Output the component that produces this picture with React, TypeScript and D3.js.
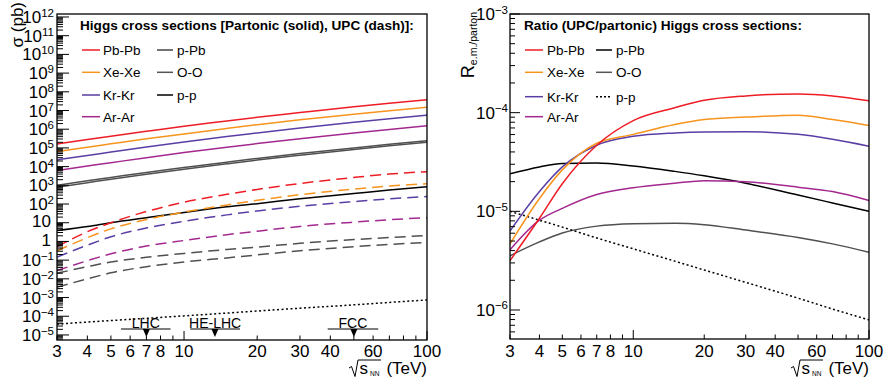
import React from 'react';
import * as d3 from 'd3';

// ---------- data ----------
const energies = [3, 4, 5, 7, 10, 15, 20, 30, 50, 70, 100]; // sqrt(s_NN) in TeV

// log10(sigma / pb), partonic (solid)
const pbpbPartonic = [5.21, 5.45, 5.63, 5.89, 6.16, 6.44, 6.64, 6.89, 7.2, 7.39, 7.57];
const xexePartonic = [4.8, 5.04, 5.22, 5.49, 5.75, 6.04, 6.24, 6.5, 6.8, 6.99, 7.18];
const krkrPartonic = [4.36, 4.6, 4.78, 5.05, 5.32, 5.61, 5.8, 6.06, 6.37, 6.56, 6.75];
const ararPartonic = [3.79, 4.03, 4.21, 4.48, 4.75, 5.04, 5.23, 5.49, 5.8, 5.99, 6.18];
const ppbPartonic = [2.9, 3.14, 3.33, 3.59, 3.86, 4.15, 4.35, 4.61, 4.92, 5.11, 5.3];
const ooPartonic = [3.0, 3.24, 3.42, 3.69, 3.95, 4.24, 4.44, 4.7, 5.0, 5.19, 5.38];
const ppPartonic = [0.58, 0.8, 1.0, 1.27, 1.55, 1.85, 2.02, 2.28, 2.56, 2.75, 2.93];

// log10(sigma / pb), UPC (dashed / dotted)
const pbpbUPC = [-0.28, 0.52, 1.0, 1.6, 2.1, 2.52, 2.78, 3.1, 3.42, 3.6, 3.73];
const xexeUPC = [-0.5, 0.2, 0.67, 1.17, 1.57, 1.95, 2.2, 2.5, 2.8, 2.96, 3.08];
const krkrUPC = [-0.84, -0.2, 0.25, 0.72, 1.08, 1.42, 1.63, 1.88, 2.13, 2.28, 2.4];
const ararUPC = [-1.56, -1.03, -0.66, -0.25, 0.05, 0.36, 0.55, 0.8, 1.03, 1.16, 1.27];
const ppbUPC = [-1.7, -1.35, -1.1, -0.85, -0.64, -0.43, -0.3, -0.1, 0.1, 0.21, 0.31];
const ooUPC = [-2.45, -2.0, -1.68, -1.35, -1.1, -0.88, -0.72, -0.5, -0.28, -0.16, -0.06];
const ppUPC = [-4.42, -4.31, -4.23, -4.11, -3.98, -3.83, -3.72, -3.57, -3.39, -3.26, -3.13];

// log10(R e.m./parton)
const pbpbRatio = [-5.5, -5.07, -4.72, -4.33, -4.08, -3.95, -3.875, -3.83, -3.81, -3.83, -3.88];
const xexeRatio = [-5.33, -4.87, -4.58, -4.31, -4.22, -4.12, -4.07, -4.045, -4.025, -4.07, -4.13];
const krkrRatio = [-5.2, -4.8, -4.55, -4.33, -4.24, -4.205, -4.195, -4.193, -4.22, -4.27, -4.34];
const ararRatio = [-5.39, -5.09, -4.97, -4.83, -4.76, -4.715, -4.69, -4.7, -4.755, -4.8, -4.89];
const ppbRatio = [-4.62, -4.55, -4.515, -4.51, -4.54, -4.595, -4.64, -4.715, -4.835, -4.915, -5.0];
const ooRatio = [-5.45, -5.31, -5.22, -5.15, -5.125, -5.12, -5.135, -5.19, -5.265, -5.33, -5.415];
const ppRatio = [-5.0, -5.09, -5.16, -5.27, -5.38, -5.505, -5.595, -5.72, -5.88, -5.99, -6.1];

// collider markers (TeV)
const colliderNames = ['LHC', 'HE-LHC', 'FCC'];
const colliderLow = [5.5, 10.6, 39];
const colliderHigh = [8.8, 17, 63];
const colliderMark = [7, 13.4, 50];

// axis ticks
const xTicks = [3, 4, 5, 6, 7, 8, 9, 10, 20, 30, 40, 50, 60, 70, 80, 90, 100];
const xTickLabels = [3, 4, 5, 6, 7, 8, 10, 20, 30, 40, 60, 100];
const leftExponents = d3.range(-5, 13);
const rightExponents = [-3, -4, -5, -6];

// legends
const leftLegendTitle = 'Higgs cross sections [Partonic (solid), UPC (dash)]:';
const rightLegendTitle = 'Ratio (UPC/partonic) Higgs cross sections:';
const legendCol1 = ['Pb-Pb', 'Xe-Xe', 'Kr-Kr', 'Ar-Ar'];
const legendCol2 = ['p-Pb', 'O-O', 'p-p'];

// ---------- style ----------
const FONT = "'Liberation Sans', Arial, Helvetica, sans-serif";
const cRed = '#ee1d25';
const cOrange = '#f7941e';
const cBlue = '#5a3ea5';
const cMag = '#a3288f';
const cGray = '#505050';
const cBlack = '#000000';
const DASH = '11 6';
const DOT = '2 2.5';

const L = { x0: 57, x1: 427, y0: 14, y1: 340 };
const R = { x0: 510, x1: 869, y0: 14, y1: 339 };

const xL = d3.scaleLog().domain([3, 100]).range([L.x0, L.x1]);
const yL = d3.scaleLog().domain([Math.pow(10, -5.27), Math.pow(10, 12.16)]).range([L.y1, L.y0]);
const xR = d3.scaleLog().domain([3, 100]).range([R.x0, R.x1]);
const yR = d3.scaleLog().domain([Math.pow(10, -6.294), 1e-3]).range([R.y1, R.y0]);

type Series = { vals: number[]; color: string; dash?: string };

const leftSeries: Series[] = [
  { vals: pbpbPartonic, color: cRed },
  { vals: xexePartonic, color: cOrange },
  { vals: krkrPartonic, color: cBlue },
  { vals: ararPartonic, color: cMag },
  { vals: ppbPartonic, color: cGray },
  { vals: ooPartonic, color: cGray },
  { vals: ppPartonic, color: cBlack },
  { vals: pbpbUPC, color: cRed, dash: DASH },
  { vals: xexeUPC, color: cOrange, dash: DASH },
  { vals: krkrUPC, color: cBlue, dash: DASH },
  { vals: ararUPC, color: cMag, dash: DASH },
  { vals: ppbUPC, color: cGray, dash: DASH },
  { vals: ooUPC, color: cGray, dash: DASH },
  { vals: ppUPC, color: cBlack, dash: DOT },
];

const rightSeries: Series[] = [
  { vals: ooRatio, color: cGray },
  { vals: ppRatio, color: cBlack, dash: DOT },
  { vals: ppbRatio, color: cBlack },
  { vals: ararRatio, color: cMag },
  { vals: krkrRatio, color: cBlue },
  { vals: xexeRatio, color: cOrange },
  { vals: pbpbRatio, color: cRed },
];

function pathFor(vals: number[], xs: any, ys: any) {
  const gen = d3
    .line<number>()
    .x((_, i) => xs(energies[i]))
    .y((d) => ys(Math.pow(10, d)))
    .curve(d3.curveMonotoneX);
  return gen(vals) || '';
}

function supText(e: number) {
  return e < 0 ? '\u2212' + String(-e) : String(e);
}

function YTicks({ ys, x, minE, maxE, majorLen, minorLen }: any) {
  const [dLo, dHi] = ys.domain();
  const out: any[] = [];
  for (let e = minE; e <= maxE; e++) {
    for (let m = 1; m <= 9; m++) {
      const v = m * Math.pow(10, e);
      if (v < dLo || v > dHi) continue;
      const yy = ys(v);
      out.push(
        <line key={e + '_' + m} x1={x} x2={x + (m === 1 ? majorLen : minorLen)} y1={yy} y2={yy} stroke="#000" strokeWidth={1} />
      );
    }
  }
  return <g>{out}</g>;
}

function XTicks({ xs, y }: any) {
  return (
    <g>
      {xTicks.map((t) => {
        const major = t === 10 || t === 100;
        return <line key={t} x1={xs(t)} x2={xs(t)} y1={y} y2={y - (major ? 9 : 4.5)} stroke="#000" strokeWidth={1} />;
      })}
      {xTickLabels.map((t) => (
        <text key={'l' + t} x={xs(t)} y={357} textAnchor="middle" fontSize={17}>
          {t}
        </text>
      ))}
    </g>
  );
}

function XTitle({ right }: { right: number }) {
  const r = right;
  return (
    <g>
      <path
        d={`M${r - 78},368 L${r - 75.5},366.5 L${r - 72},376.5 L${r - 69},360 L${r - 46},360`}
        fill="none"
        stroke="#000"
        strokeWidth={1}
      />
      <text x={r - 67.5} y={374} fontSize={17}>
        s
      </text>
      <text x={r - 57} y={376} fontSize={6.5}>
        NN
      </text>
      <text x={r} y={374} textAnchor="end" fontSize={17}>
        (TeV)
      </text>
    </g>
  );
}

function Legend({ x1, x2, rows, titleX, title, col1Styles, col2Styles }: any) {
  return (
    <g>
      <text x={titleX} y={30} fontSize={13.6} fontWeight="bold">
        {title}
      </text>
      {legendCol1.map((lab, i) => (
        <g key={lab}>
          <line x1={x1[0]} x2={x1[1]} y1={rows[i]} y2={rows[i]} stroke={col1Styles[i].color} strokeWidth={1.5} />
          <text x={x1[2]} y={rows[i] + 5} fontSize={13.5}>
            {lab}
          </text>
        </g>
      ))}
      {legendCol2.map((lab, i) => (
        <g key={lab}>
          <line
            x1={x2[0]}
            x2={x2[1]}
            y1={rows[i]}
            y2={rows[i]}
            stroke={col2Styles[i].color}
            strokeWidth={1.5}
            strokeDasharray={col2Styles[i].dash || undefined}
          />
          <text x={x2[2]} y={rows[i] + 5} fontSize={13.5}>
            {lab}
          </text>
        </g>
      ))}
    </g>
  );
}

export default function App() {
  const rows = [50, 72.3, 95, 116.7];
  const col1Styles = [{ color: cRed }, { color: cOrange }, { color: cBlue }, { color: cMag }];
  return (
    <svg
      width={886}
      height={378}
      viewBox="0 0 886 378"
      style={{ position: 'absolute', left: 0, top: 0, background: '#fff' }}
      fontFamily={FONT}
    >
      <defs>
        <clipPath id="clipL">
          <rect x={L.x0} y={L.y0} width={L.x1 - L.x0} height={L.y1 - L.y0} />
        </clipPath>
        <clipPath id="clipR">
          <rect x={R.x0} y={R.y0} width={R.x1 - R.x0} height={R.y1 - R.y0} />
        </clipPath>
      </defs>
      <rect x={0} y={0} width={886} height={378} fill="#fff" />

      {/* ---------- left panel ---------- */}
      <g clipPath="url(#clipL)">
        {leftSeries.map((s, i) => (
          <path
            key={i}
            d={pathFor(s.vals, xL, yL)}
            fill="none"
            stroke={s.color}
            strokeWidth={1.5}
            strokeDasharray={s.dash || undefined}
          />
        ))}
      </g>
      <YTicks ys={yL} x={L.x0} minE={-6} maxE={12} majorLen={12} minorLen={6} />
      <XTicks xs={xL} y={L.y1} />
      {leftExponents.map((e) => {
        const yy = yL(Math.pow(10, e)) + 6;
        if (e === 0 || e === 1)
          return (
            <text key={e} x={51} y={yy - 1.5} textAnchor="end" fontSize={17}>
              {e === 0 ? '1' : '10'}
            </text>
          );
        return (
          <text key={e} x={54} y={yy} textAnchor="end" fontSize={17}>
            10
            <tspan dy={-6} fontSize={11.5}>
              {supText(e)}
            </tspan>
          </text>
        );
      })}
      <rect x={L.x0} y={L.y0} width={L.x1 - L.x0} height={L.y1 - L.y0} fill="none" stroke="#000" strokeWidth={1.3} />
      <text transform="translate(23,2) rotate(-90)" textAnchor="end" fontSize={17}>
        σ (pb)
      </text>
      <XTitle right={L.x1} />

      {/* collider markers */}
      {colliderNames.map((n, i) => {
        const xm = xL(colliderMark[i]);
        return (
          <g key={n}>
            <line x1={xL(colliderLow[i])} x2={xL(colliderHigh[i])} y1={329} y2={329} stroke="#000" strokeWidth={1.2} />
            <path d={`M${xm - 3.5},329 L${xm + 3.5},329 L${xm},337 Z`} fill="#000" />
            <text x={(xL(colliderLow[i]) + xL(colliderHigh[i])) / 2} y={328} textAnchor="middle" fontSize={14}>
              {n}
            </text>
          </g>
        );
      })}

      <Legend
        x1={[82, 100, 103]}
        x2={[157, 173, 177]}
        rows={rows}
        titleX={80}
        title={leftLegendTitle}
        col1Styles={col1Styles}
        col2Styles={[{ color: '#444' }, { color: '#555' }, { color: '#000' }]}
      />

      {/* ---------- right panel ---------- */}
      <g clipPath="url(#clipR)">
        {rightSeries.map((s, i) => (
          <path
            key={i}
            d={pathFor(s.vals, xR, yR)}
            fill="none"
            stroke={s.color}
            strokeWidth={1.5}
            strokeDasharray={s.dash || undefined}
          />
        ))}
      </g>
      <YTicks ys={yR} x={R.x0} minE={-7} maxE={-3} majorLen={10} minorLen={5} />
      <XTicks xs={xR} y={R.y1} />
      {rightExponents.map((e) => (
        <text key={e} x={508} y={yR(Math.pow(10, e)) + 6} textAnchor="end" fontSize={17}>
          10
          <tspan dy={-6.5} fontSize={11.5}>
            {supText(e)}
          </tspan>
        </text>
      ))}
      <rect x={R.x0} y={R.y0} width={R.x1 - R.x0} height={R.y1 - R.y0} fill="none" stroke="#000" strokeWidth={1.3} />
      <text transform="translate(474,12) rotate(-90)" textAnchor="end" fontSize={18}>
        R
        <tspan fontSize={10.5} dy={3}>
          e.m./parton
        </tspan>
      </text>
      <XTitle right={R.x1} />

      <Legend
        x1={[525, 543, 547]}
        x2={[596, 612, 616]}
        rows={[50, 72.3, 96.7, 116.7]}
        titleX={524}
        title={rightLegendTitle}
        col1Styles={col1Styles}
        col2Styles={[{ color: '#000' }, { color: '#555' }, { color: '#000', dash: '2 2' }]}
      />
    </svg>
  );
}
